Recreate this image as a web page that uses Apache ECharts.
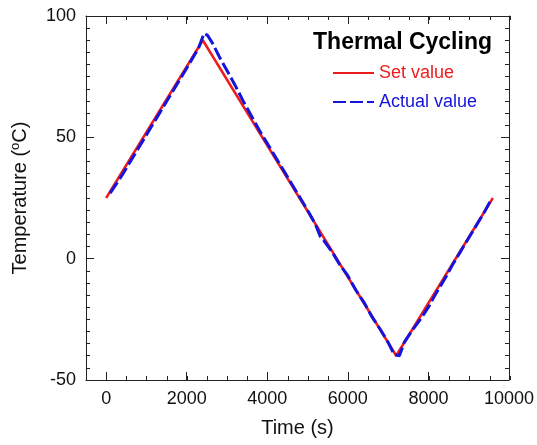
<!DOCTYPE html>
<html>
<head>
<meta charset="utf-8">
<script src="https://cdn.jsdelivr.net/npm/echarts@6/dist/echarts.min.js"></script>
<style>html,body{margin:0;padding:0;background:#fff}#c{width:537px;height:445px}</style>
</head>
<body>
<div id="c"></div>
<script>
// ---- data ----
var titleText = 'Thermal Cycling';
var seriesNames = ['Set value', 'Actual value'];
var xMajorTicks = [0, 2000, 4000, 6000, 8000, 10000];
var yTicks = [-50, 0, 50, 100];
var setTime = [0, 2400, 7200, 9600];
var setTemp = [25, 90, -40, 25];
var actualTime = [100, 400, 800, 1200, 1600, 2000, 2300, 2430, 2520, 2650, 2800, 3000, 3200, 3400, 3600, 3800, 4000, 4200, 4400, 4600, 4800, 5000, 5200, 5320, 5400, 5600, 5800, 6000, 6200, 6400, 6600, 6800, 7000, 7150, 7280, 7400, 7600, 7800, 8000, 8200, 8400, 8600, 8800, 9000, 9200, 9400, 9560];
var actualTemp = [27, 34.5, 45.5, 56.5, 67.5, 78.5, 87, 92.8, 92, 88.5, 83.5, 77.5, 71.5, 65, 59, 53, 47.5, 42, 36.5, 31, 25.5, 20, 14, 9, 7.5, 3, -2.5, -7, -13, -18, -24, -29, -34.5, -39.5, -40, -34.5, -29.5, -25, -20, -14, -8.5, -2.5, 3, 8.5, 14, 19.5, 24.5];

function zip(a, b) { return a.map(function (v, i) { return [v, b[i]]; }); }

var FONT = 'Liberation Sans, Arial, sans-serif';
var AX = '#222';
var RED = '#ee1c1c';
var BLUE = '#1414dc';
var GRID = { left: 86, right: 27, top: 16, bottom: 65 };

function tick(len) { return { show: true, inside: true, length: len, lineStyle: { color: AX, width: 1 } }; }

// grid 0: main axes with major ticks; grid 1: same rect, minor x ticks
function xMajor(pos, labels) {
  var o = {
    type: 'value', gridIndex: 0, position: pos, min: -500, max: 10000,
    splitLine: { show: false },
    axisLine: { show: true, onZero: false, lineStyle: { color: AX, width: 1 } },
    axisTick: Object.assign(tick(8), { customValues: xMajorTicks }),
    axisLabel: {
      show: labels, customValues: xMajorTicks, margin: 10, color: '#111', fontSize: 18, fontFamily: FONT,
      formatter: function (v) { return String(v); }
    }
  };
  if (labels) {
    o.name = 'Time (s)';
    o.nameLocation = 'middle';
    o.nameGap = 38;
    o.nameTextStyle = { color: '#111', fontSize: 20, fontFamily: FONT };
  }
  return o;
}
function xMinor(pos) {
  return {
    type: 'value', gridIndex: 1, position: pos, min: -500, max: 10000, interval: 500,
    splitLine: { show: false },
    axisLine: { show: false, onZero: false },
    axisTick: tick(4),
    axisLabel: { show: false }
  };
}

function yAx(pos, labels, gi) {
  var o = {
    type: 'value', gridIndex: gi, position: pos, min: yTicks[0], max: yTicks[yTicks.length - 1], interval: 50,
    splitLine: { show: false },
    axisLine: { show: gi === 0, onZero: false, lineStyle: { color: AX, width: 1 } },
    axisTick: Object.assign(tick(8), { show: gi === 0 }),
    minorTick: { show: gi === 0, splitNumber: 10, length: 4, lineStyle: { color: AX, width: 1 } },
    axisLabel: { show: labels, margin: 10, color: '#111', fontSize: 18, fontFamily: FONT }
  };
  if (labels) {
    o.name = '{a|Temperature (}{s|o}{a|C)}';
    o.nameLocation = 'middle';
    o.nameGap = 54;
    o.nameTextStyle = {
      color: '#111', fontFamily: FONT,
      rich: {
        a: { fontSize: 20, fontFamily: FONT, color: '#111', lineHeight: 24 },
        s: { fontSize: 13, fontFamily: FONT, color: '#111', lineHeight: 24, padding: [0, 0, 9, 0] }
      }
    };
  }
  return o;
}

var chart = echarts.init(document.getElementById('c'), null, { renderer: 'canvas' });
chart.setOption({
  animation: false,
  backgroundColor: '#fff',
  title: {
    text: titleText, right: 45, top: 31, padding: 0,
    textStyle: { fontFamily: FONT, fontWeight: 'bold', fontSize: 23, color: '#000' }
  },
  legend: {
    orient: 'vertical', left: 332, top: 64, padding: 0, itemGap: 11,
    itemWidth: 41, itemHeight: 14,
    itemStyle: { opacity: 0 },
    textStyle: { fontFamily: FONT, fontSize: 18 },
    data: [
      { name: seriesNames[0], textStyle: { color: RED } },
      { name: seriesNames[1], textStyle: { color: BLUE } }
    ]
  },
  grid: [Object.assign({}, GRID), Object.assign({}, GRID)],
  xAxis: [xMajor('bottom', true), xMajor('top', false), xMinor('bottom'), xMinor('top')],
  yAxis: [yAx('left', true, 0), yAx('right', false, 0), yAx('left', false, 1)],
  series: [
    {
      name: seriesNames[0], type: 'line', xAxisIndex: 0, yAxisIndex: 0,
      data: zip(setTime, setTemp), symbol: 'none', showSymbol: false,
      lineStyle: { color: RED, width: 2.5 }, itemStyle: { color: RED }, z: 2
    },
    {
      name: seriesNames[1], type: 'line', xAxisIndex: 0, yAxisIndex: 0,
      data: zip(actualTime, actualTemp), symbol: 'none', showSymbol: false,
      lineStyle: { color: BLUE, width: 3, type: [13, 4] }, itemStyle: { color: BLUE }, z: 3
    }
  ]
});
</script>
</body>
</html>
